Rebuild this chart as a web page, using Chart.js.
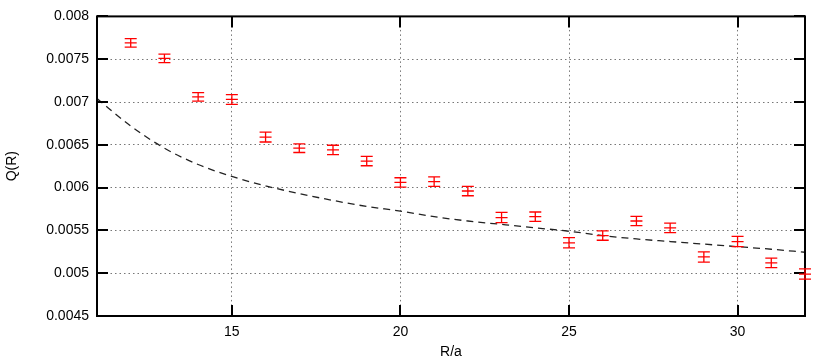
<!DOCTYPE html>
<html>
<head>
<meta charset="utf-8">
<script src="https://cdn.jsdelivr.net/npm/chart.js@4.4.1/dist/chart.umd.min.js"></script>
<style>
  html, body { margin: 0; padding: 0; background: #fff; }
  canvas { display: block; }
</style>
</head>
<body>
<canvas id="chart" width="830" height="364"></canvas>
<script>
// -------- DATA --------
const rValues = [12, 13, 14, 15, 16, 17, 18, 19, 20, 21, 22, 23, 24, 25, 26, 27, 28, 29, 30, 31, 32];
const qValues = [0.00769, 0.00751, 0.00706, 0.00703, 0.00659, 0.00646, 0.00644, 0.00631, 0.00606, 0.00607, 0.00596,
                 0.00565, 0.00566, 0.005355, 0.00544, 0.00561, 0.00553, 0.00519, 0.00537, 0.00512, 0.00499];
const qErrors = [0.00005, 0.00005, 0.00005, 0.000057, 0.000057, 0.00005, 0.000055, 0.000055, 0.000055, 0.000055, 0.000055,
                 0.00006, 0.000055, 0.00006, 0.000055, 0.000055, 0.000055, 0.00006, 0.00006, 0.000055, 0.00006];

// dashed curve
const fitR = [11, 12, 13, 14, 15, 16, 17, 18, 19, 20, 21, 22, 23, 24, 25, 26, 27, 28, 29, 30, 31, 32];
const fitQ = [0.00704, 0.00672, 0.00646, 0.00627, 0.00613, 0.00602, 0.00593, 0.00585, 0.00578, 0.005725, 0.00566,
              0.00561, 0.00557, 0.00553, 0.00549, 0.00544, 0.0054, 0.00537, 0.00534, 0.00531, 0.00528, 0.005245];

const xTickValues = [15, 20, 25, 30];
const yTickValues = [0.0045, 0.005, 0.0055, 0.006, 0.0065, 0.007, 0.0075, 0.008];

const FONT = "'Liberation Sans', Arial, sans-serif";

// -------- PLUGINS --------
const frameTicks = {
  id: "frameTicks",
  afterDatasetsDraw(chart) {
    const { ctx, chartArea: a, scales } = chart;
    const len = 11;
    ctx.save();
    ctx.strokeStyle = "#000";
    ctx.lineWidth = 2;
    ctx.beginPath();
    xTickValues.forEach(v => {
      const x = Math.round(scales.x.getPixelForValue(v));
      ctx.moveTo(x, a.bottom); ctx.lineTo(x, a.bottom - len);
      ctx.moveTo(x, a.top); ctx.lineTo(x, a.top + len);
    });
    yTickValues.forEach(v => {
      const y = Math.round(scales.y.getPixelForValue(v));
      ctx.moveTo(a.left, y); ctx.lineTo(a.left + len, y);
      ctx.moveTo(a.right, y); ctx.lineTo(a.right - len, y);
    });
    ctx.stroke();
    ctx.strokeRect(a.left, a.top, a.right - a.left, a.bottom - a.top);
    ctx.restore();
  }
};

const errorBars = {
  id: "errorBars",
  afterDraw(chart) {
    const { ctx, scales } = chart;
    const cap = 6;
    ctx.save();
    ctx.strokeStyle = "#ff0000";
    ctx.lineWidth = 1.3;
    rValues.forEach((r, i) => {
      const x = scales.x.getPixelForValue(r);
      const y = scales.y.getPixelForValue(qValues[i]);
      const yHi = scales.y.getPixelForValue(qValues[i] + qErrors[i]);
      const yLo = scales.y.getPixelForValue(qValues[i] - qErrors[i]);
      ctx.beginPath();
      ctx.moveTo(x, yLo); ctx.lineTo(x, yHi);
      ctx.moveTo(x - cap, yHi); ctx.lineTo(x + cap, yHi);
      ctx.moveTo(x - cap, yLo); ctx.lineTo(x + cap, yLo);
      ctx.moveTo(x - cap, y); ctx.lineTo(x + cap, y);
      ctx.stroke();
    });
    ctx.restore();
  }
};

// -------- CHART --------
const ctx = document.getElementById("chart");

new Chart(ctx, {
  type: "scatter",
  data: {
    datasets: [
      {
        type: "line",
        data: fitR.map((r, i) => ({ x: r, y: fitQ[i] })),
        borderColor: "#222",
        borderWidth: 1.3,
        borderDash: [7, 5],
        pointRadius: 0,
        fill: false,
        cubicInterpolationMode: "monotone"
      },
      {
        data: rValues.map((r, i) => ({ x: r, y: qValues[i] })),
        pointRadius: 0,
        showLine: false
      }
    ]
  },
  options: {
    responsive: false,
    animation: false,
    devicePixelRatio: 1,
    layout: { padding: { left: 0, right: 25, top: 16, bottom: 0 } },
    plugins: { legend: { display: false }, tooltip: { enabled: false } },
    scales: {
      x: {
        type: "linear",
        min: 11,
        max: 32,
        afterBuildTicks: s => { s.ticks = xTickValues.map(v => ({ value: v })); },
        afterFit: s => { s.height = 48; },
        ticks: { color: "#000", font: { family: FONT, size: 14 }, padding: 8, maxRotation: 0 },
        grid: {
          color: "#777",
          lineWidth: 1,
          drawTicks: false
        },
        border: { display: false, dash: [1.5, 3] },
        title: { display: true, text: "R/a", color: "#000", font: { family: FONT, size: 14 }, padding: 3 }
      },
      y: {
        type: "linear",
        min: 0.0045,
        max: 0.008,
        afterBuildTicks: s => { s.ticks = yTickValues.map(v => ({ value: v })); },
        afterFit: s => { s.width = 97; },
        ticks: {
          color: "#000",
          font: { family: FONT, size: 14 },
          padding: 8,
          callback: v => String(Number(v.toFixed(4)))
        },
        grid: {
          color: "#777",
          lineWidth: 1,
          drawTicks: false
        },
        border: { display: false, dash: [1.5, 3] },
        title: { display: true, text: "Q(R)", color: "#000", font: { family: FONT, size: 14 }, padding: 4 }
      }
    }
  },
  plugins: [frameTicks, errorBars]
});
</script>
</body>
</html>
